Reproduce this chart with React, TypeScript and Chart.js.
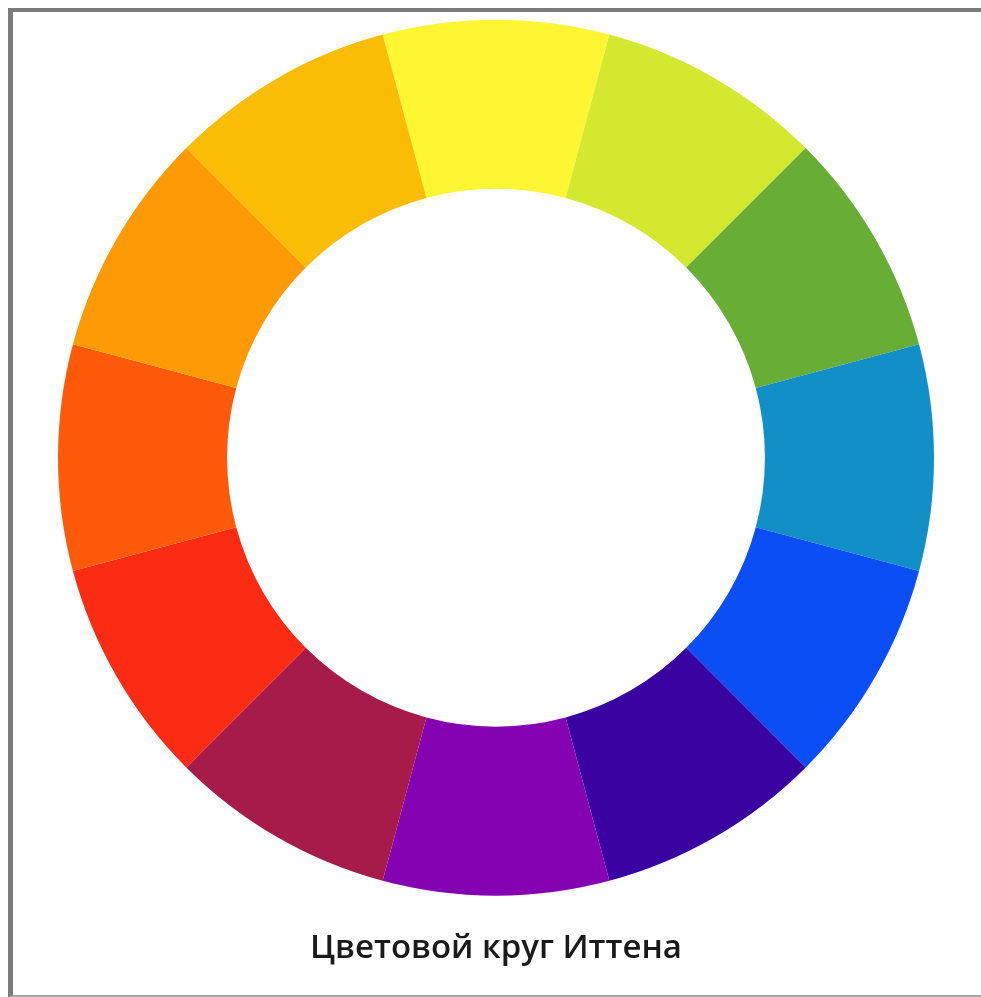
import React, { useEffect, useRef } from "react";
import { Chart, registerables } from "chart.js";

Chart.register(...registerables);

const categories = [
  "Жёлтый",
  "Жёлто-зелёный",
  "Зелёный",
  "Сине-зелёный",
  "Синий",
  "Сине-фиолетовый",
  "Фиолетовый",
  "Красно-фиолетовый",
  "Красный",
  "Красно-оранжевый",
  "Оранжевый",
  "Жёлто-оранжевый",
];

const values = [1, 1, 1, 1, 1, 1, 1, 1, 1, 1, 1, 1];

const colors = [
  "#fef632",
  "#d3e82f",
  "#67ad36",
  "#138fc8",
  "#0b4ef6",
  "#3b02a2",
  "#8502b3",
  "#a71b4a",
  "#fc2b14",
  "#fe5a09",
  "#fd9a05",
  "#fbbc05",
];

const titleText = "Цветовой круг Иттена";

export default function App() {
  const ref = useRef<HTMLCanvasElement | null>(null);

  useEffect(() => {
    if (!ref.current) return;
    const chart = new Chart(ref.current, {
      type: "doughnut",
      data: {
        labels: categories,
        datasets: [
          {
            data: values,
            backgroundColor: colors,
            borderWidth: 0,
            hoverOffset: 0,
          },
        ],
      },
      options: {
        animation: false,
        responsive: false,
        rotation: -15,
        radius: 438,
        cutout: "61.4%",
        layout: { padding: { left: 0, right: 2, top: 8, bottom: 0 } },
        plugins: {
          legend: { display: false },
          tooltip: { enabled: false },
          title: {
            display: true,
            position: "bottom",
            text: titleText,
            color: "#1a1a1a",
            font: { family: "'Open Sans', sans-serif", size: 33, weight: "600", lineHeight: 1.2 },
            padding: { top: 33, bottom: 27 },
          },
        },
      },
    });
    return () => chart.destroy();
  }, []);

  return (
    <div
      style={{
        position: "fixed",
        left: 8,
        top: 8,
        width: 968,
        height: 983,
        borderTop: "4px solid #7b7b7b",
        borderLeft: "5px solid #7b7b7b",
        borderBottom: "2px solid #a5a5a5",
        background: "#ffffff",
      }}
    >
      <canvas ref={ref} width={968} height={983} style={{ display: "block" }} />
    </div>
  );
}
